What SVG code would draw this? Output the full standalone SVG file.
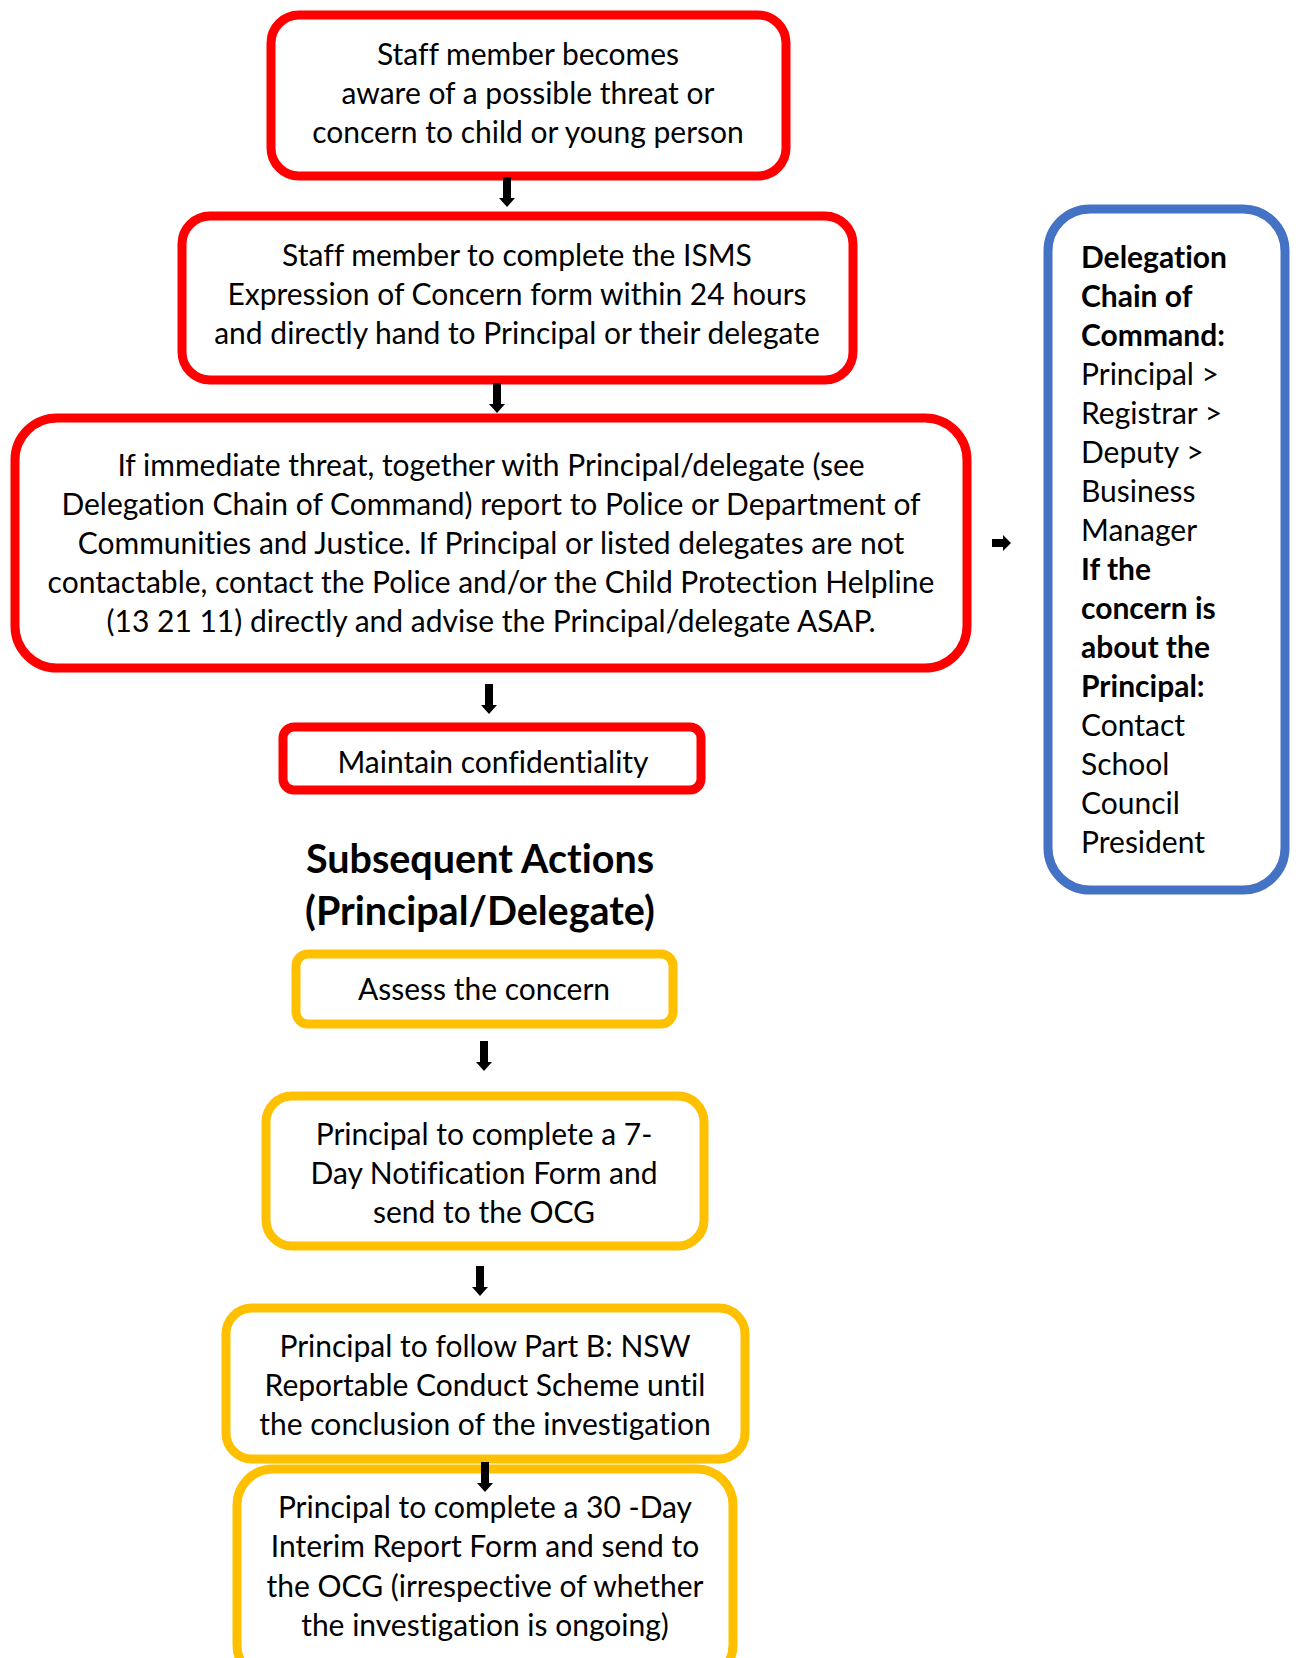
<svg xmlns="http://www.w3.org/2000/svg" xmlns:xlink="http://www.w3.org/1999/xlink" width="1301" height="1658" viewBox="0 0 1301 1658">
<style>
.box{fill:#FFFFFF;stroke-width:9}
.red{stroke:#FF0000}
.yel{stroke:#FFC000}
.blu{stroke:#4472C4}
text{font-family:Lato,"Liberation Sans",sans-serif;font-size:30px;fill:#000000;font-variant-ligatures:none;font-feature-settings:"liga" 0,"clig" 0}
.c{text-anchor:middle}
.b{font-weight:bold}
.h{font-size:39.5px;font-weight:bold}
</style>
<defs>
<path id="dn" d="M-4,0 H4 V21 H8 L0,30 L-8,21 H-4 Z" fill="#000000"/>
<path id="rt" d="M0,-4 V4 H11 V8 L19,0 L11,-8 V-4 Z" fill="#000000"/>
</defs>
<rect width="1301" height="1658" fill="#FFFFFF"/>
<g id="n1">
<rect class="box red" x="271" y="15" width="515" height="161" rx="28"/>
<text class="c" x="528" y="65">Staff member becomes</text>
<text class="c" x="528" y="104">aware of a possible threat or</text>
<text class="c" x="528" y="143">concern to child or young person</text>
</g>
<g id="n2">
<rect class="box red" x="182" y="216" width="671" height="164" rx="28"/>
<text class="c" x="517" y="266">Staff member to complete the ISMS</text>
<text class="c" x="517" y="305">Expression of Concern form within 24 hours</text>
<text class="c" x="517" y="344">and directly hand to Principal or their delegate</text>
</g>
<g id="n3">
<rect class="box red" x="15" y="418" width="952" height="250" rx="42"/>
<text class="c" x="491" y="476">If immediate threat, together with Principal/delegate (see</text>
<text class="c" x="491" y="515">Delegation Chain of Command) report to Police or Department of</text>
<text class="c" x="491" y="554">Communities and Justice. If Principal or listed delegates are not</text>
<text class="c" x="491" y="593">contactable, contact the Police and/or the Child Protection Helpline</text>
<text class="c" x="491" y="632">(13 21 11) directly and advise the Principal/delegate ASAP.</text>
</g>
<g id="n4">
<rect class="box red" x="283" y="727" width="418" height="63" rx="11"/>
<text class="c" x="493" y="773">Maintain confidentiality</text>
</g>
<g id="heading">
<text class="c h" x="480" y="873">Subsequent Actions</text>
<text class="c h" x="480" y="925">(Principal/Delegate)</text>
</g>
<g id="n5">
<rect class="box yel" x="296" y="954" width="377" height="70" rx="12"/>
<text class="c" x="484" y="1000">Assess the concern</text>
</g>
<g id="n6">
<rect class="box yel" x="266" y="1096" width="438" height="150" rx="26"/>
<text class="c" x="484" y="1145">Principal to complete a 7-</text>
<text class="c" x="484" y="1184">Day Notification Form and</text>
<text class="c" x="484" y="1223">send to the OCG</text>
</g>
<g id="n7">
<rect class="box yel" x="226" y="1308" width="519" height="151" rx="26"/>
<text class="c" x="485" y="1357">Principal to follow Part B: NSW</text>
<text class="c" x="485" y="1396">Reportable Conduct Scheme until</text>
<text class="c" x="485" y="1435">the conclusion of the investigation</text>
</g>
<g id="n8">
<rect class="box yel" x="237" y="1469" width="496" height="212" rx="36"/>
<text class="c" x="485" y="1518">Principal to complete a 30 -Day</text>
<text class="c" x="485" y="1557">Interim Report Form and send to</text>
<text class="c" x="485" y="1597">the OCG (irrespective of whether</text>
<text class="c" x="485" y="1636">the investigation is ongoing)</text>
</g>
<g id="n9">
<rect class="box blu" x="1048" y="209" width="237" height="681" rx="42"/>
<text class="b" x="1081" y="268">Delegation</text>
<text class="b" x="1081" y="307">Chain of</text>
<text class="b" x="1081" y="346">Command:</text>
<text x="1081" y="385">Principal &gt;</text>
<text x="1081" y="424">Registrar &gt;</text>
<text x="1081" y="463">Deputy &gt;</text>
<text x="1081" y="502">Business</text>
<text x="1081" y="541">Manager</text>
<text class="b" x="1081" y="580">If the</text>
<text class="b" x="1081" y="619">concern is</text>
<text class="b" x="1081" y="658">about the</text>
<text class="b" x="1081" y="697">Principal:</text>
<text x="1081" y="736">Contact</text>
<text x="1081" y="775">School</text>
<text x="1081" y="814">Council</text>
<text x="1081" y="853">President</text>
</g>
<g id="connectors">
<use xlink:href="#dn" x="507" y="177"/>
<use xlink:href="#dn" x="497" y="383"/>
<use xlink:href="#dn" x="489" y="684"/>
<use xlink:href="#dn" x="484" y="1041"/>
<use xlink:href="#dn" x="480" y="1266"/>
<use xlink:href="#dn" x="485" y="1462"/>
<use xlink:href="#rt" x="992" y="543"/>
</g>
</svg>
